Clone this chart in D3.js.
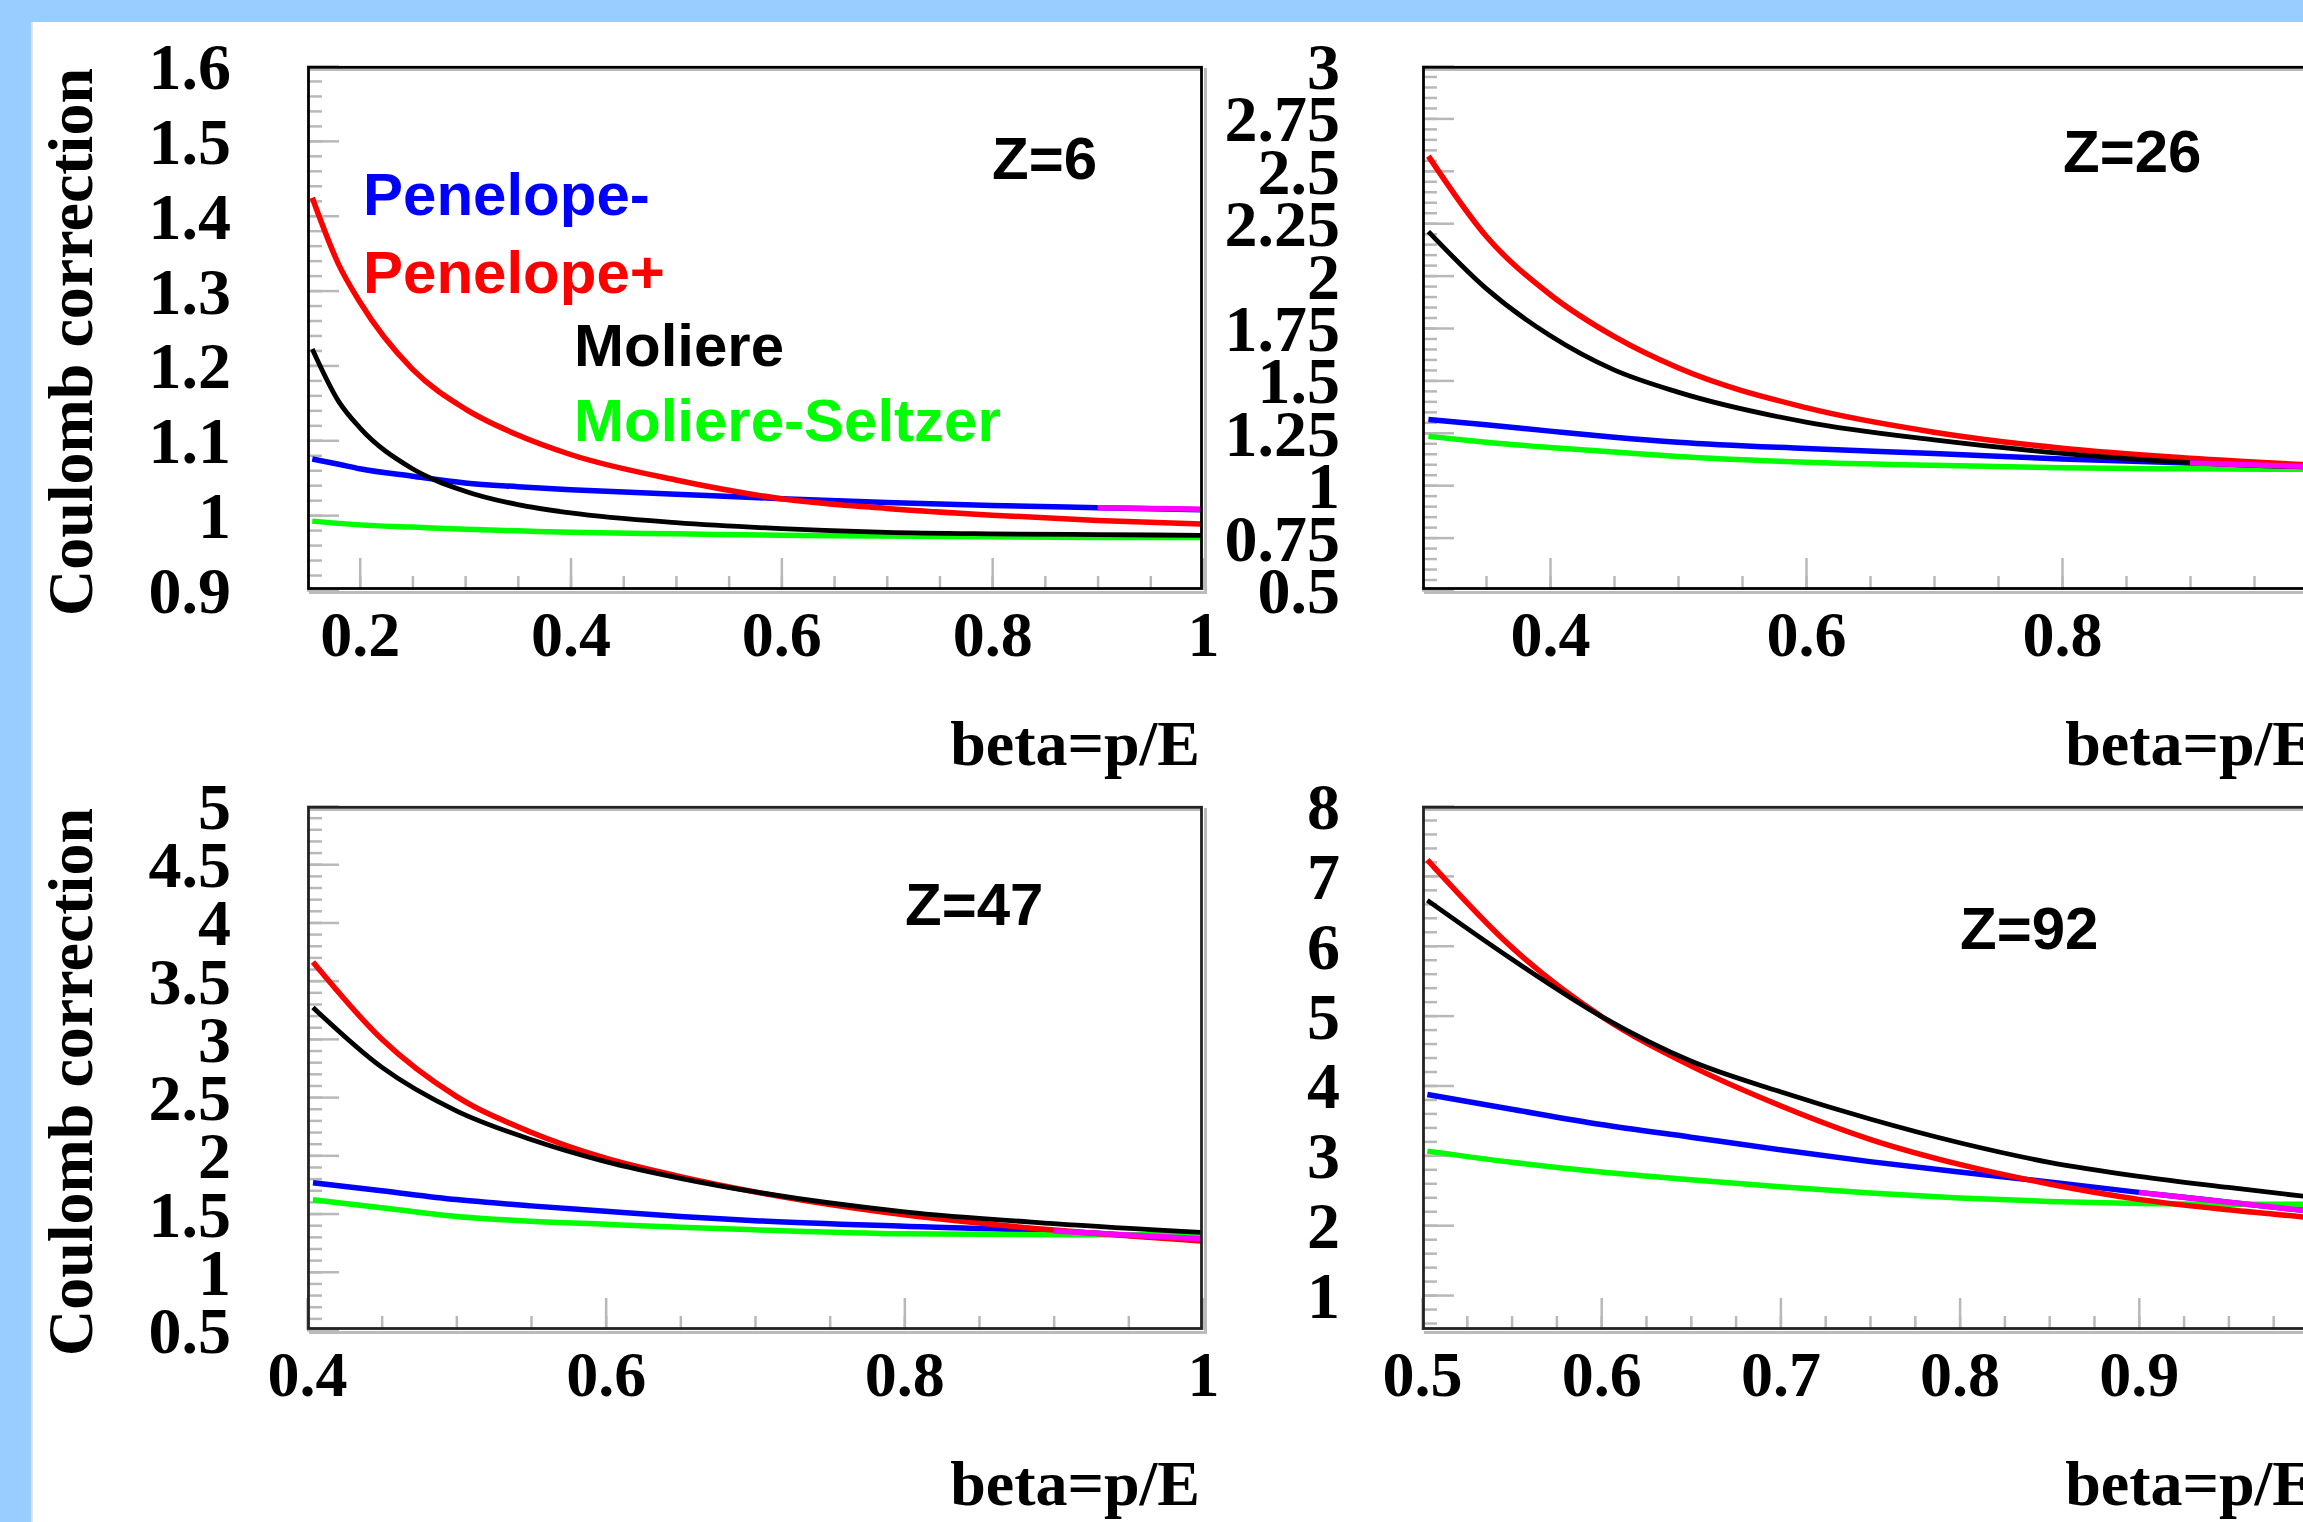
<!DOCTYPE html>
<html lang='en'>
<head>
  <meta charset='UTF-8'>
  <title>Coulomb correction</title>
  <style>
    body { margin: 0; background: #99ccff; }
    svg { display: block; }
  </style>
</head>
<body>
<div id='chart'></div>
<script src='https://d3js.org/d3.v7.min.js'></script>
<script>
  // ---- data ----
  var zLabels = ['Z=6', 'Z=26', 'Z=47', 'Z=92']
  var seriesNames = ['Penelope-', 'Penelope+', 'Moliere', 'Moliere-Seltzer']

  // axis limits
  var xLimits = [[0.15, 1], [0.3, 1], [0.4, 1], [0.5, 1]]
  var yLimits = [[0.9, 1.6], [0.5, 3], [0.5, 5], [0.5, 8]]

  // tick labels
  var xTickLabelsZ6 = ['0.2', '0.4', '0.6', '0.8', '1']
  var xTickLabelsZ26 = ['0.4', '0.6', '0.8', '1']
  var xTickLabelsZ47 = ['0.4', '0.6', '0.8', '1']
  var xTickLabelsZ92 = ['0.5', '0.6', '0.7', '0.8', '0.9', '1']
  var yTickLabelsZ6 = ['0.9', '1', '1.1', '1.2', '1.3', '1.4', '1.5', '1.6']
  var yTickLabelsZ26 = ['0.5', '0.75', '1', '1.25', '1.5', '1.75', '2', '2.25', '2.5', '2.75', '3']
  var yTickLabelsZ47 = ['0.5', '1', '1.5', '2', '2.5', '3', '3.5', '4', '4.5', '5']
  var yTickLabelsZ92 = ['1', '2', '3', '4', '5', '6', '7', '8']
  var minorStepX = [0.05, 0.05, 0.05, 0.025]
  var minorStepY = [0.02, 0.05, 0.1, 0.2]

  // Z=6
  var betaZ6 = [0.155, 0.18, 0.2, 0.25, 0.3, 0.35, 0.4, 0.5, 0.6, 0.7, 0.8, 0.9, 1.0]
  var penMinusZ6 = [1.075, 1.068, 1.062, 1.052, 1.043, 1.038, 1.034, 1.028, 1.022, 1.017, 1.013, 1.010, 1.007]
  var penPlusZ6 = [1.424, 1.335, 1.285, 1.195, 1.142, 1.107, 1.081, 1.047, 1.022, 1.009, 1.000, 0.993, 0.988]
  var moliereZ6 = [1.222, 1.152, 1.117, 1.062, 1.032, 1.014, 1.003, 0.990, 0.982, 0.977, 0.975, 0.974, 0.973]
  var seltzerZ6 = [0.992, 0.989, 0.987, 0.984, 0.981, 0.979, 0.977, 0.975, 0.973, 0.972, 0.971, 0.970, 0.970]

  // Z=26
  var betaZ26 = [0.305, 0.35, 0.4, 0.45, 0.5, 0.6, 0.7, 0.8, 0.9, 1.0]
  var penMinusZ26 = [1.314, 1.288, 1.258, 1.229, 1.205, 1.175, 1.151, 1.125, 1.106, 1.090]
  var penPlusZ26 = [2.570, 2.189, 1.910, 1.710, 1.560, 1.370, 1.253, 1.176, 1.129, 1.095]
  var moliereZ26 = [2.210, 1.939, 1.714, 1.550, 1.444, 1.301, 1.216, 1.152, 1.108, 1.085]
  var seltzerZ26 = [1.233, 1.205, 1.180, 1.158, 1.137, 1.110, 1.095, 1.083, 1.078, 1.076]

  // Z=47
  var betaZ47 = [0.404, 0.45, 0.5, 0.55, 0.6, 0.65, 0.7, 0.8, 0.9, 1.0]
  var penMinusZ47 = [1.765, 1.696, 1.620, 1.566, 1.520, 1.475, 1.439, 1.390, 1.350, 1.270]
  var penPlusZ47 = [3.660, 2.999, 2.507, 2.198, 1.975, 1.817, 1.686, 1.489, 1.358, 1.264]
  var moliereZ47 = [3.270, 2.757, 2.382, 2.136, 1.946, 1.803, 1.686, 1.515, 1.414, 1.338]
  var seltzerZ47 = [1.619, 1.550, 1.475, 1.434, 1.408, 1.382, 1.360, 1.326, 1.318, 1.318]

  // Z=92
  var betaZ92 = [0.503, 0.55, 0.6, 0.65, 0.7, 0.75, 0.8, 0.85, 0.9, 0.95, 1.0]
  var penMinusZ92 = [3.87, 3.66, 3.44, 3.26, 3.08, 2.91, 2.76, 2.62, 2.47, 2.33, 2.19]
  var penPlusZ92 = [7.23, 5.98, 4.99, 4.28, 3.71, 3.23, 2.87, 2.59, 2.37, 2.22, 2.10]
  var moliereZ92 = [6.65, 5.81, 4.99, 4.35, 3.91, 3.52, 3.18, 2.90, 2.70, 2.54, 2.39]
  var seltzerZ92 = [3.06, 2.90, 2.76, 2.65, 2.55, 2.46, 2.39, 2.34, 2.31, 2.30, 2.30]

  // short magenta piece at the high-beta end
  var betaHigh = [0.9, 0.95, 1.0]
  var highZ6 = [1.010, 1.009, 1.008]
  var highZ26 = [1.106, 1.096, 1.088]
  var highZ47 = [1.350, 1.315, 1.282]
  var highZ92 = [2.47, 2.33, 2.19]

  // ---- layout ----
  var W = 2303, H = 1522
  var PW = 896, PH = 524
  var boxes = [[307, 66], [1422, 66], [307, 806], [1422, 806]]
  var zPos = [[992, 179], [2063, 172], [905, 925], [1960, 949]]
  var colors = ['#0000ff', '#ff0000', '#000000', '#00ff00']
  var widths = [5.5, 5.5, 4.8, 5.5]
  var serif = "'Liberation Serif', 'Times New Roman', serif"
  var sans = "'Liberation Sans', Arial, sans-serif"

  var panels = [
    {beta: betaZ6, ys: [penMinusZ6, penPlusZ6, moliereZ6, seltzerZ6], high: highZ6, xl: xTickLabelsZ6, yl: yTickLabelsZ6},
    {beta: betaZ26, ys: [penMinusZ26, penPlusZ26, moliereZ26, seltzerZ26], high: highZ26, xl: xTickLabelsZ26, yl: yTickLabelsZ26},
    {beta: betaZ47, ys: [penMinusZ47, penPlusZ47, moliereZ47, seltzerZ47], high: highZ47, xl: xTickLabelsZ47, yl: yTickLabelsZ47},
    {beta: betaZ92, ys: [penMinusZ92, penPlusZ92, moliereZ92, seltzerZ92], high: highZ92, xl: xTickLabelsZ92, yl: yTickLabelsZ92}
  ]

  var svg = d3.select('#chart').append('svg').attr('width', W).attr('height', H)
  svg.append('rect').attr('width', W).attr('height', H).attr('fill', '#99ccff')
  svg.append('rect').attr('x', 31).attr('y', 22).attr('width', W - 31).attr('height', H - 22).attr('fill', '#fff')
  svg.append('line').attr('x1', 32).attr('x2', 32).attr('y1', 22).attr('y2', H)
    .attr('stroke', '#e4e4e4').attr('stroke-width', 2)
  var defs = svg.append('defs')

  // minor tick positions strictly inside the limits
  function minorTicks (lim, step) {
    var out = []
    var start = Math.ceil(lim[0] / step - 1e-6)
    for (var k = start; k * step <= lim[1] + 1e-9; k++) out.push(+(k * step).toFixed(4))
    return out.filter(function (v) { return v > lim[0] + 1e-6 && v < lim[1] - 1e-6 })
  }

  function styleAxis (g) {
    g.select('.domain').remove()
    g.selectAll('.tick line').attr('stroke', '#b8b8b8').attr('stroke-width', 2.5)
    g.attr('font-family', serif).attr('font-weight', 'bold').attr('fill', '#000')
    g.selectAll('text').attr('fill', '#000')
  }

  panels.forEach(function (p, i) {
    var L = boxes[i][0], T = boxes[i][1]
    var left = (i % 2 === 0)
    var g = svg.append('g').attr('transform', 'translate(' + L + ',' + T + ')')
    var x = d3.scaleLinear().domain(xLimits[i]).range([0, PW])
    var y = d3.scaleLinear().domain(yLimits[i]).range([PH, 0])

    defs.append('clipPath').attr('id', 'clip' + i)
      .append('rect').attr('x', 2).attr('y', 2).attr('width', PW - 4).attr('height', PH - 4)

    // minor ticks
    g.append('g')
      .call(d3.axisLeft(y).tickValues(minorTicks(yLimits[i], minorStepY[i])).tickSize(-15).tickFormat(''))
      .call(styleAxis)
    g.append('g').attr('transform', 'translate(0,' + PH + ')')
      .call(d3.axisBottom(x).tickValues(minorTicks(xLimits[i], minorStepX[i])).tickSize(-14).tickFormat(''))
      .call(styleAxis)

    // major ticks with labels
    var yVals = p.yl.map(Number)
    g.append('g')
      .call(d3.axisLeft(y).tickValues(yVals).tickSize(-32).tickPadding(left ? 76 : 82)
        .tickFormat(function (d, j) { return p.yl[j] }))
      .call(styleAxis)
      .attr('font-size', 66)
      .call(function (a) { a.selectAll('text').attr('dy', '0.34em') })
    var xVals = p.xl.map(Number)
    g.append('g').attr('transform', 'translate(0,' + PH + ')')
      .call(d3.axisBottom(x).tickValues(xVals).tickSize(-32)
        .tickFormat(function (d, j) { return p.xl[j] }))
      .call(styleAxis)
      .attr('font-size', 64)
      .call(function (a) { a.selectAll('text').attr('y', 66).attr('dy', null) })

    // curves
    var line = d3.line()
      .x(function (d) { return x(d[0]) })
      .y(function (d) { return y(d[1]) })
      .curve(d3.curveMonotoneX)
    var curves = g.append('g').attr('clip-path', 'url(#clip' + i + ')')
    var order = [0, 3, 1, 2]
    order.forEach(function (s) {
      var pts = p.beta.map(function (b, k) { return [b, p.ys[s][k]] })
      curves.append('path').datum(pts)
        .attr('d', line).attr('fill', 'none')
        .attr('stroke', colors[s]).attr('stroke-width', widths[s])
        .attr('stroke-linejoin', 'round')
    })
    curves.append('path').datum(betaHigh.map(function (b, k) { return [b, p.high[k]] }))
      .attr('d', line).attr('fill', 'none')
      .attr('stroke', '#ff00ff').attr('stroke-width', 5.5)

    // frame
    g.append('line').attr('x1', 3).attr('x2', PW).attr('y1', 3.8).attr('y2', 3.8)
      .attr('stroke', '#bbbbbb').attr('stroke-width', 2.5)
    g.append('line').attr('x1', PW + 2.5).attr('x2', PW + 2.5).attr('y1', 2).attr('y2', PH + 4)
      .attr('stroke', '#bbbbbb').attr('stroke-width', 3)
    g.append('line').attr('x1', 2).attr('x2', PW + 4).attr('y1', PH + 2.5).attr('y2', PH + 2.5)
      .attr('stroke', '#bbbbbb').attr('stroke-width', 3)
    g.append('rect').attr('x', 1.5).attr('y', 1.3).attr('width', PW - 3).attr('height', PH - 2.8)
      .attr('fill', 'none').attr('stroke', i < 2 ? '#000' : '#222').attr('stroke-width', 2.8)

    // Z label
    svg.append('text').attr('x', zPos[i][0]).attr('y', zPos[i][1])
      .attr('font-family', sans).attr('font-weight', 'bold').attr('font-size', 60)
      .text(zLabels[i])

    // x title
    svg.append('text').attr('x', L + PW - 3).attr('y', T + PH + 175)
      .attr('text-anchor', 'end')
      .attr('font-family', serif).attr('font-weight', 'bold').attr('font-size', 64)
      .text('beta=p/E')

    // y title (left column only)
    if (left) {
      svg.append('text')
        .attr('transform', 'translate(92,' + (T + 2) + ') rotate(-90)')
        .attr('text-anchor', 'end')
        .attr('font-family', serif).attr('font-weight', 'bold').attr('font-size', 64)
        .text('Coulomb correction')
    }
  })

  // legend, first panel
  var legendPos = [[363, 215], [363, 293], [574, 366], [574, 441]]
  seriesNames.forEach(function (name, s) {
    svg.append('text').attr('x', legendPos[s][0]).attr('y', legendPos[s][1])
      .attr('font-family', sans).attr('font-weight', 'bold').attr('font-size', 60)
      .attr('fill', colors[s])
      .text(name)
  })
</script>
</body>
</html>
